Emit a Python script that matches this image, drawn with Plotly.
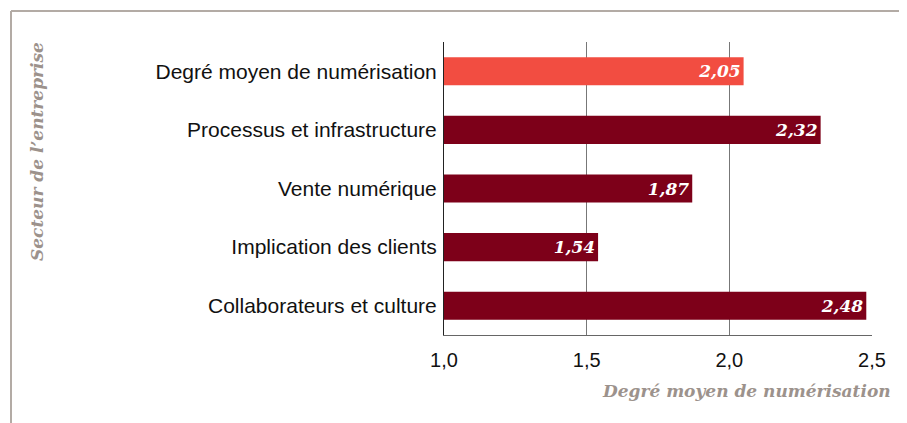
import plotly.graph_objects as go

# Données (ordre de bas en haut)
categories = [
    "Collaborateurs et culture",
    "Implication des clients",
    "Vente numérique",
    "Processus et infrastructure",
    "Degré moyen de numérisation",
]
valeurs = [2.48, 1.54, 1.87, 2.32, 2.05]
couleurs = ["#7d0019", "#7d0019", "#7d0019", "#7d0019", "#f24d41"]

tick_vals = [1.0, 1.5, 2.0, 2.5]
tick_text = ["1,0", "1,5", "2,0", "2,5"]

base = 1.0

fig = go.Figure(
    go.Bar(
        x=[v - base for v in valeurs],
        y=categories,
        orientation="h",
        base=base,
        marker=dict(color=couleurs, line=dict(width=0)),
        text=[f"{v:.2f}".replace(".", ",") for v in valeurs],
        textposition="inside",
        insidetextanchor="end",
        textfont=dict(family="DejaVu Serif", size=17, color="white",
                      style="italic", weight="bold"),
        width=0.48,
    )
)

fig.update_xaxes(
    range=[1.0, 2.5],
    tickvals=tick_vals,
    ticktext=tick_text,
    showgrid=True,
    gridcolor="#777777",
    gridwidth=1,
    showline=True,
    linecolor="#666666",
    linewidth=1,
    ticks="",
    ticklabelstandoff=7,
    tickfont=dict(family="Liberation Sans", size=20, color="#111111"),
    zeroline=False,
)
fig.update_yaxes(
    range=[-0.5, 4.5],
    showline=True,
    linecolor="#222222",
    linewidth=1,
    ticks="",
    ticklabelstandoff=2,
    tickfont=dict(family="Liberation Sans", size=21, color="#111111"),
    showgrid=False,
)

# la page ajoute une marge de 8 px : on la compense
W, H = 899, 415
L, R, T, B = 436, 35, 34, 88
pw, ph = W - L - R, H - T - B

fig.update_layout(
    width=W,
    height=H,
    margin=dict(l=L, r=R, t=T, b=B),
    plot_bgcolor="white",
    paper_bgcolor="white",
    showlegend=False,
    shapes=[
        dict(type="line", xref="paper", yref="paper",
             x0=(3 - L) / pw, x1=(W - L) / pw,
             y0=(H - B - 3) / ph, y1=(H - B - 3) / ph,
             line=dict(color="#b3aba5", width=2)),
        dict(type="line", xref="paper", yref="paper",
             x0=(3 - L) / pw, x1=(3 - L) / pw,
             y0=(H - B - 3) / ph, y1=-B / ph,
             line=dict(color="#b3aba5", width=2)),
    ],
    annotations=[
        dict(text="Degré moyen de numérisation", xref="paper", yref="paper",
             x=(885 - L) / pw, y=-56 / ph, xanchor="right", yanchor="middle",
             showarrow=False,
             font=dict(family="DejaVu Serif", size=17, color="#9c928c",
                       style="italic", weight="bold")),
        dict(text="Secteur de l’entreprise", xref="paper", yref="paper",
             x=(29 - L) / pw, y=(H - B - 144) / ph, xanchor="center", yanchor="middle",
             textangle=-90, showarrow=False,
             font=dict(family="DejaVu Serif", size=17, color="#9c928c",
                       style="italic", weight="bold")),
    ],
)

fig.write_html("out.html")
